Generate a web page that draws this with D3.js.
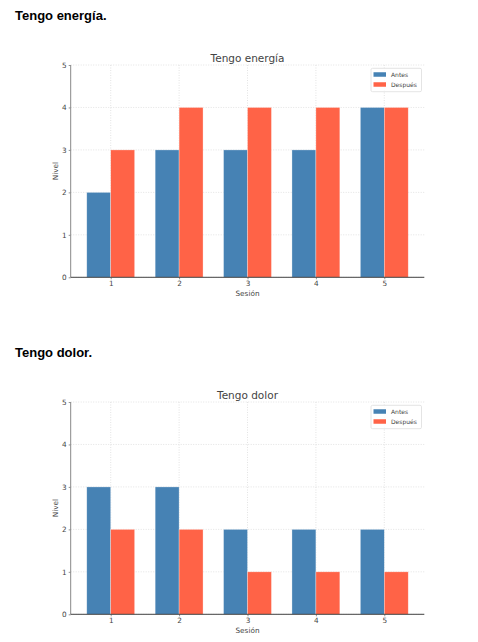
<!DOCTYPE html>
<html>
<head>
<meta charset="utf-8">
<script src="https://cdn.jsdelivr.net/npm/d3@7"></script>
<style>
  body { margin: 0; background: #fff; }
  svg { display: block; }
</style>
</head>
<body>
<svg id="page" width="478" height="642"></svg>
<script>
// Data
const sessions = [1, 2, 3, 4, 5];
const yTicks = [0, 1, 2, 3, 4, 5];
const seriesNames = ['Antes', 'Después'];
const seriesColors = ['#4682b4', '#ff6347'];

const energiaAntes = [2, 3, 3, 3, 4];
const energiaDespues = [3, 4, 4, 4, 4];
const dolorAntes = [3, 3, 2, 2, 2];
const dolorDespues = [2, 2, 1, 1, 1];

const charts = [
  { heading: 'Tengo energía.', title: 'Tengo energía', antes: energiaAntes, despues: energiaDespues, top: 0 },
  { heading: 'Tengo dolor.', title: 'Tengo dolor', antes: dolorAntes, despues: dolorDespues, top: 337 }
];

const svg = d3.select('#page');
const barWidth = 0.35;
const plot = { left: 70.7, right: 424.3, top: 65, bottom: 277.3 };

// Draw one section: heading + chart
function drawChart(cfg) {
  const g = svg.append('g').attr('transform', `translate(0,${cfg.top})`);

  g.append('text')
    .attr('x', 15)
    .attr('y', 20)
    .attr('font-family', 'Liberation Sans, Arial, sans-serif')
    .attr('font-size', 13)
    .attr('font-weight', 'bold')
    .attr('fill', '#000')
    .text(cfg.heading);

  const x = d3.scaleLinear()
    .domain([0.415, 5.585])
    .range([plot.left, plot.right]);

  const y = d3.scaleLinear()
    .domain([0, 5])
    .range([plot.bottom, plot.top]);

  // Grid
  g.append('g').selectAll('line.vgrid')
    .data(sessions)
    .enter()
    .append('line')
    .attr('x1', d => x(d)).attr('x2', d => x(d))
    .attr('y1', plot.top).attr('y2', plot.bottom)
    .attr('stroke', '#dcdcdc')
    .attr('stroke-width', 0.8)
    .attr('stroke-dasharray', '1,1.5');

  g.append('g').selectAll('line.hgrid')
    .data(yTicks)
    .enter()
    .append('line')
    .attr('x1', plot.left).attr('x2', plot.right)
    .attr('y1', d => y(d)).attr('y2', d => y(d))
    .attr('stroke', '#dcdcdc')
    .attr('stroke-width', 0.8)
    .attr('stroke-dasharray', '1,1.5');

  // Bars
  const series = [cfg.antes, cfg.despues];
  series.forEach((vals, si) => {
    g.append('g').selectAll('rect')
      .data(vals)
      .enter()
      .append('rect')
      .attr('x', (d, i) => x(sessions[i] + (si === 0 ? -barWidth : 0)))
      .attr('y', d => y(d))
      .attr('width', x(barWidth) - x(0))
      .attr('height', d => y(0) - y(d))
      .attr('fill', seriesColors[si])
      .attr('stroke', 'rgba(255,255,255,0.5)')
      .attr('stroke-width', 0.6);
  });

  // Axes
  const xAxis = g.append('g')
    .attr('transform', `translate(0,${plot.bottom})`)
    .call(d3.axisBottom(x).tickValues(sessions).tickSize(2).tickPadding(2).tickFormat(d3.format('d')));
  xAxis.select('.domain').remove();
  const yAxis = g.append('g')
    .attr('transform', `translate(${plot.left},0)`)
    .call(d3.axisLeft(y).tickValues(yTicks).tickSize(2).tickPadding(2).tickFormat(d3.format('d')));
  yAxis.select('.domain').remove();

  [xAxis, yAxis].forEach(a => {
    a.selectAll('text')
      .attr('font-family', 'DejaVu Sans, sans-serif')
      .attr('font-size', 7.3)
      .attr('fill', '#444');
    a.selectAll('line').attr('stroke', '#777').attr('stroke-width', 0.8);
  });

  // Spines
  g.append('line')
    .attr('x1', plot.left).attr('x2', plot.left)
    .attr('y1', plot.top).attr('y2', plot.bottom)
    .attr('stroke', '#888').attr('stroke-width', 1);
  g.append('line')
    .attr('x1', plot.left).attr('x2', plot.right)
    .attr('y1', plot.bottom).attr('y2', plot.bottom)
    .attr('stroke', '#444').attr('stroke-width', 1);

  // Title and labels
  g.append('text')
    .attr('x', (plot.left + plot.right) / 2)
    .attr('y', plot.top - 3.5)
    .attr('text-anchor', 'middle')
    .attr('font-family', 'DejaVu Sans, sans-serif')
    .attr('font-size', 10.5)
    .attr('fill', '#444')
    .text(cfg.title);

  g.append('text')
    .attr('x', (plot.left + plot.right) / 2)
    .attr('y', plot.bottom + 19)
    .attr('text-anchor', 'middle')
    .attr('font-family', 'DejaVu Sans, sans-serif')
    .attr('font-size', 7.3)
    .attr('fill', '#444')
    .text('Sesión');

  g.append('text')
    .attr('transform', `translate(58,${(plot.top + plot.bottom) / 2}) rotate(-90)`)
    .attr('text-anchor', 'middle')
    .attr('font-family', 'DejaVu Sans, sans-serif')
    .attr('font-size', 7.3)
    .attr('fill', '#444')
    .text('Nivel');

  // Legend
  const legend = g.append('g').attr('transform', 'translate(371,68.3)');
  legend.append('rect')
    .attr('width', 50.5)
    .attr('height', 23.4)
    .attr('rx', 1.5)
    .attr('fill', '#fff')
    .attr('fill-opacity', 0.8)
    .attr('stroke', '#ddd')
    .attr('stroke-width', 0.8);

  const items = legend.selectAll('.legend-item')
    .data(seriesNames)
    .enter()
    .append('g')
    .attr('class', 'legend-item')
    .attr('transform', (d, i) => `translate(2.5,${6.2 + i * 10})`);

  items.append('rect')
    .attr('width', 12.5)
    .attr('height', 4.5)
    .attr('y', -2.25)
    .attr('fill', (d, i) => seriesColors[i]);

  items.append('text')
    .attr('x', 17.5)
    .attr('y', 2.2)
    .attr('font-family', 'DejaVu Sans, sans-serif')
    .attr('font-size', 6)
    .attr('fill', '#444')
    .text(d => d);
}

charts.forEach(drawChart);
</script>
</body>
</html>
